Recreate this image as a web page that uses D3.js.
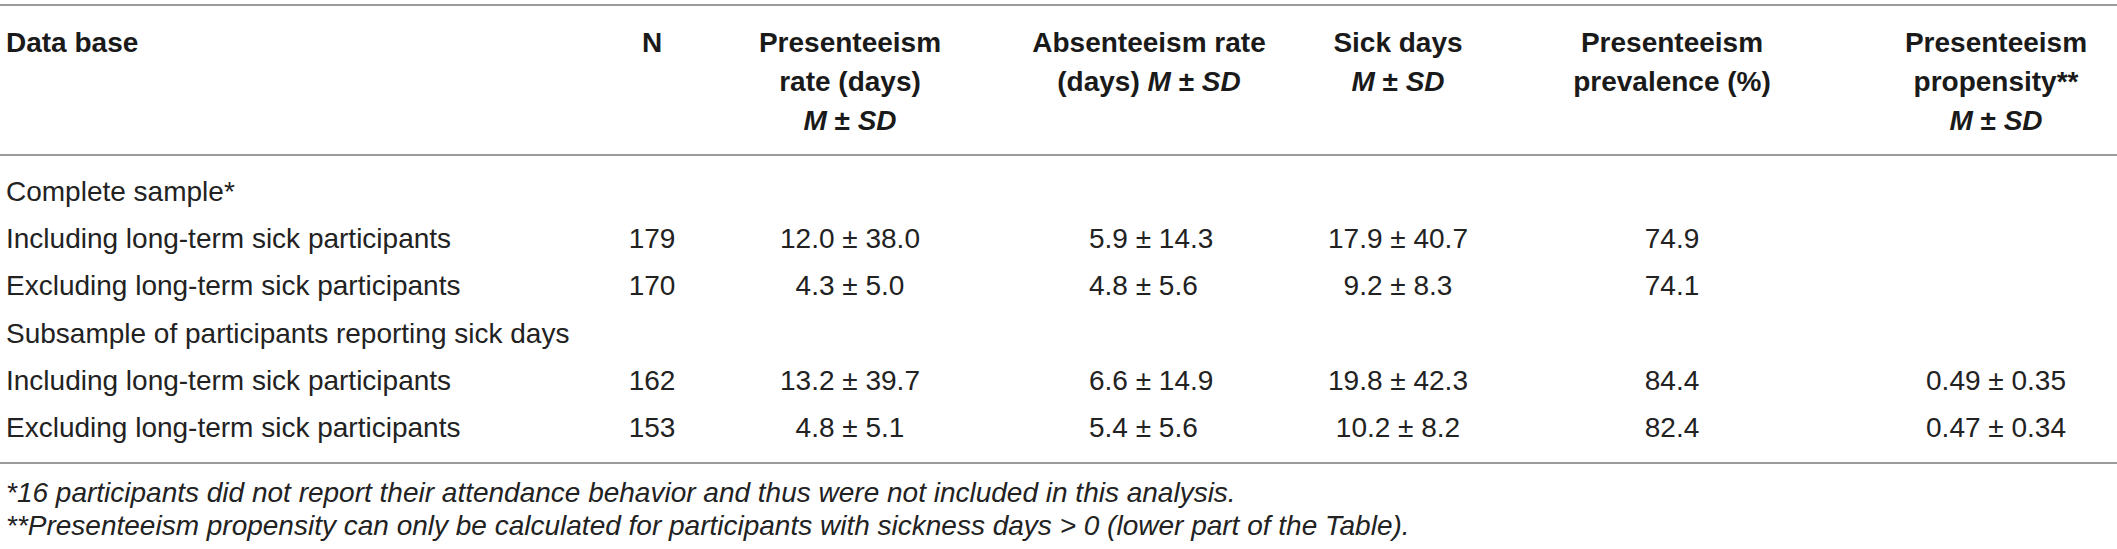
<!DOCTYPE html>
<html>

<head>
    <title>Presenteeism table</title>
    <script src="https://cdn.jsdelivr.net/npm/d3@7"></script>
    <style>
        body { margin: 0; background: #fff; }
        text { font-family: 'Liberation Sans', Arial, sans-serif; font-size: 28px; }
    </style>
</head>

<body>
    <svg width="2117" height="549" id="mainsvg"></svg>
    <script>
        // table content
        const groupLabels = ['Complete sample*', 'Subsample of participants reporting sick days'];
        const rowLabels = [
            'Including long-term sick participants',
            'Excluding long-term sick participants',
            'Including long-term sick participants',
            'Excluding long-term sick participants'
        ];
        const nValues = [179, 170, 162, 153];
        const presMean = [12.0, 4.3, 13.2, 4.8];
        const presSD = [38.0, 5.0, 39.7, 5.1];
        const absMean = [5.9, 4.8, 6.6, 5.4];
        const absSD = [14.3, 5.6, 14.9, 5.6];
        const sickMean = [17.9, 9.2, 19.8, 10.2];
        const sickSD = [40.7, 8.3, 42.3, 8.2];
        const prevalence = [74.9, 74.1, 84.4, 82.4];
        const propMean = [null, null, 0.49, 0.47];
        const propSD = [null, null, 0.35, 0.34];
        // header lines, each a list of [text, italic]
        const headers = [
            [[['Data base', false]]],
            [[['N', false]]],
            [[['Presenteeism', false]], [['rate (days)', false]], [['M', true], [' \u00b1 ', false], ['SD', true]]],
            [[['Absenteeism rate', false]], [['(days) ', false], ['M', true], [' \u00b1 ', false], ['SD', true]]],
            [[['Sick days', false]], [['M', true], [' \u00b1 ', false], ['SD', true]]],
            [[['Presenteeism', false]], [['prevalence (%)', false]]],
            [[['Presenteeism', false]], [['propensity**', false]], [['M', true], [' \u00b1 ', false], ['SD', true]]]
        ];
        const footnotes = [
            '*16 participants did not report their attendance behavior and thus were not included in this analysis.',
            '**Presenteeism propensity can only be calculated for participants with sickness days > 0 (lower part of the Table).'
        ];

        const svg = d3.select('svg');
        const width = +svg.attr('width');

        // column layout: x position, anchor of body cells, header centre
        const cols = [
            { x: 6, anchor: 'start', hx: 6, hanchor: 'start' },
            { x: 652, anchor: 'middle', hx: 652, hanchor: 'middle' },
            { x: 850, anchor: 'middle', hx: 850, hanchor: 'middle' },
            { x: 1089, anchor: 'start', hx: 1149, hanchor: 'middle' },
            { x: 1398, anchor: 'middle', hx: 1398, hanchor: 'middle' },
            { x: 1672, anchor: 'middle', hx: 1672, hanchor: 'middle' },
            { x: 1996, anchor: 'middle', hx: 1996, hanchor: 'middle' }
        ];

        const headY = d3.scaleLinear().domain([0, 2]).range([52, 129.5]);
        const rowY = d3.scaleLinear().domain([0, 5]).range([201, 437]);
        const noteY = d3.scaleLinear().domain([0, 1]).range([502, 535]);

        const f1 = d3.format('.1f');
        const f2 = d3.format('.2f');
        const pm = (m, s, f) => m == null ? '' : `${f(m)} \u00b1 ${f(s)}`;

        // rules
        [5, 155, 463].forEach(y => {
            svg.append('line')
                .attr('x1', 0).attr('x2', width)
                .attr('y1', y).attr('y2', y)
                .attr('stroke', '#9b9b9b').attr('stroke-width', 2);
        });

        // header
        const head = svg.append('g').attr('fill', '#1a1a1a').attr('font-weight', 'bold');
        headers.forEach((lines, ci) => {
            lines.forEach((segs, li) => {
                const t = head.append('text')
                    .attr('x', cols[ci].hx).attr('y', headY(li))
                    .attr('text-anchor', cols[ci].hanchor);
                t.selectAll('tspan').data(segs).join('tspan')
                    .attr('font-style', d => d[1] ? 'italic' : 'normal')
                    .text(d => d[0]);
            });
        });

        // body rows: group rows at 0 and 3, data rows between
        const body = svg.append('g').attr('fill', '#222');
        const dataRowIndex = [1, 2, 4, 5];
        [0, 3].forEach((r, i) => {
            body.append('text').attr('x', cols[0].x).attr('y', rowY(r)).text(groupLabels[i]);
        });

        const rows = rowLabels.map((label, i) => [
            label,
            String(nValues[i]),
            pm(presMean[i], presSD[i], f1),
            pm(absMean[i], absSD[i], f1),
            pm(sickMean[i], sickSD[i], f1),
            f1(prevalence[i]),
            pm(propMean[i], propSD[i], f2)
        ]);

        rows.forEach((cells, i) => {
            body.selectAll(null).data(cells).join('text')
                .attr('x', (d, ci) => cols[ci].x)
                .attr('y', rowY(dataRowIndex[i]))
                .attr('text-anchor', (d, ci) => cols[ci].anchor)
                .text(d => d);
        });

        // footnotes
        svg.append('g').attr('fill', '#222').attr('font-style', 'italic')
            .selectAll('text').data(footnotes).join('text')
            .attr('x', 6).attr('y', (d, i) => noteY(i))
            .text(d => d);
    </script>
</body>

</html>
